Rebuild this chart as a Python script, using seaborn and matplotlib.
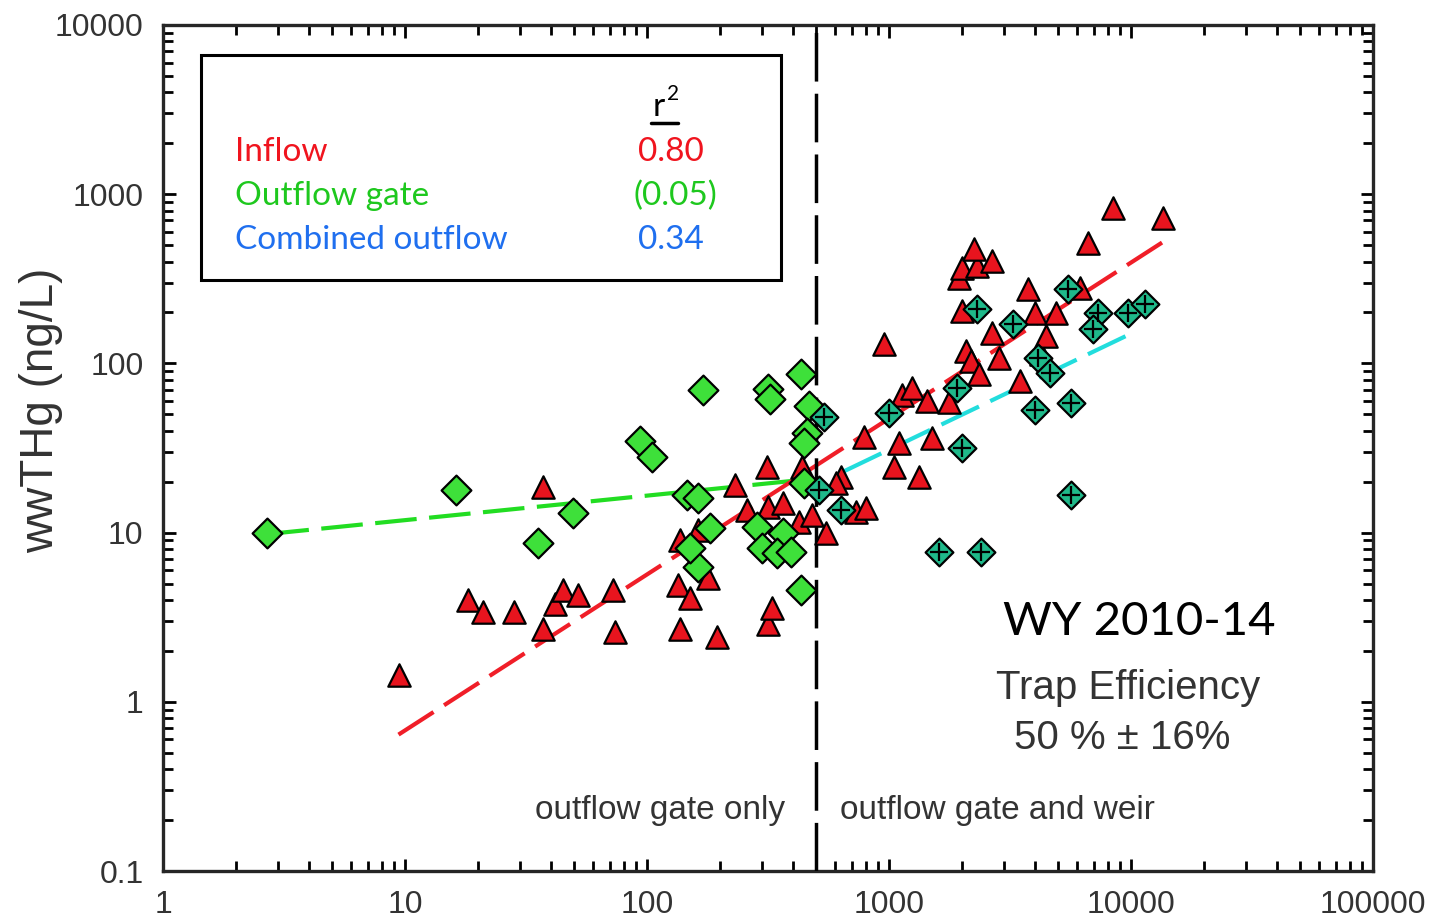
import numpy as np
import pandas as pd
import matplotlib.pyplot as plt
import seaborn as sns
from matplotlib.patches import Rectangle
from matplotlib.ticker import NullFormatter

# Inflow (red triangles): flow vs wwTHg (ng/L)
inflow_flow = [9.4, 18.2, 21.1, 28.1, 37.3, 37.0, 41.8, 45.1, 52.0, 72.4, 73.8,
               134, 137, 137, 150, 162, 178, 194, 230, 258, 312, 315, 363, 315,
               330, 426, 438, 482, 550, 634, 605, 731, 804, 789, 953, 1050, 1328,
               1099, 1503, 1130, 1244, 1432, 1766, 2073, 2174, 2345, 2837, 3493,
               4265, 4468, 2653, 1995, 4027, 4912, 3768, 6166, 6653, 1941, 1995,
               2303, 2653, 2238, 8433, 13550]
inflow_thg = [1.44, 4.0, 3.4, 3.4, 2.7, 18.5, 3.8, 4.6, 4.3, 4.6, 2.6,
              4.9, 9.0, 2.7, 4.1, 10.3, 5.4, 2.4, 19.0, 13.6, 24.3, 14.1, 14.9, 2.9,
              3.6, 11.5, 24.3, 12.7, 9.9, 21.2, 19.6, 13.2, 13.9, 36.5, 131, 24.3, 21.2,
              34, 36, 65, 72, 60, 59, 119, 104, 87, 107, 79,
              114, 146, 152, 205, 199, 199, 276, 280, 515, 321, 367,
              377, 404, 475, 829, 724]

# Outflow gate (green diamonds)
gate_flow = [2.7, 16.2, 35.3, 49.6, 93.6, 105, 170, 146, 162, 182, 162, 150,
             315, 321, 434, 469, 460, 447, 447, 286, 363, 300, 346, 395, 434]
gate_thg = [10.0, 17.8, 8.7, 13.0, 35, 27.8, 70, 16.6, 16.0, 10.6, 6.3, 8.1,
            71, 62, 87, 56, 38.6, 34, 19.6, 10.8, 9.9, 8.1, 7.6, 7.7, 4.6]

# Combined outflow (teal diamonds with cross)
combined_flow = [540, 515, 634, 1000, 1905, 1995, 1607, 2391, 2303, 3267, 4140,
                 4642, 4027, 5662, 5662, 5508, 7311, 6982, 9723, 11420]
combined_thg = [48, 17.8, 13.6, 51, 72, 31.5, 7.7, 7.7, 210, 172, 108,
                88, 53, 58, 16.6, 276, 199, 160, 199, 225]

# Fitted regression lines (end points)
fit_inflow_x = [9.4, 13500]
fit_inflow_y = [0.64, 520]
fit_gate_x = [2.7, 440]
fit_gate_y = [9.8, 20.5]
fit_combined_x = [650, 10000]
fit_combined_y = [23, 150]

regime_split = 500

r2_labels = ['Inflow', 'Outflow gate', 'Combined outflow']
r2_values = ['0.80', '(0.05)', '0.34']
r2_colors = ['#f0141e', '#1ec81e', '#1f6fef']

x_ticks = [1, 10, 100, 1000, 10000, 100000]
x_tick_labels = ['1', '10', '100', '1000', '10000', '100000']
y_ticks = [0.1, 1, 10, 100, 1000, 10000]
y_tick_labels = ['0.1', '1', '10', '100', '1000', '10000']

sns.set_style('ticks')
plt.rcParams['font.family'] = ['Liberation Sans', 'DejaVu Sans']
box_font = ['Lato', 'DejaVu Sans']

fig = plt.figure(figsize=(14.35, 9.22), dpi=100)
ax = fig.add_axes([0.1136, 0.0553, 0.8432, 0.9176])
ax.set_xscale('log')
ax.set_yscale('log')

# fit lines
sns.lineplot(x=fit_gate_x, y=fit_gate_y, ax=ax, color='#22dd22', lw=3,
             zorder=2).lines[-1].set_dashes((10, 3))
sns.lineplot(x=fit_inflow_x, y=fit_inflow_y, ax=ax, color='#f01e28', lw=3,
             zorder=2).lines[-1].set_dashes((10, 3))
sns.lineplot(x=fit_combined_x, y=fit_combined_y, ax=ax, color='#22dddd', lw=3,
             zorder=2).lines[-1].set_dashes((10, 3))

ax.axvline(regime_split, color='black', lw=2.5, dashes=(14, 3.5), zorder=3)

# points
sns.scatterplot(x=inflow_flow, y=inflow_thg, ax=ax, marker='^', s=260,
                color='#e8141e', edgecolor='black', linewidth=1.6, zorder=4)
sns.scatterplot(x=gate_flow, y=gate_thg, ax=ax, marker='D', s=230,
                color='#3ee03a', edgecolor='black', linewidth=1.6, zorder=5)
sns.scatterplot(x=combined_flow, y=combined_thg, ax=ax, marker='D', s=200,
                color='#1fb98a', edgecolor='black', linewidth=1.6, zorder=6)
sns.scatterplot(x=combined_flow, y=combined_thg, ax=ax, marker='+', s=150,
                color='black', linewidth=1.6, zorder=7)

ax.set_xlim(1, 100000)
ax.set_ylim(0.1, 10000)
ax.set_xticks(x_ticks, labels=x_tick_labels)
ax.set_yticks(y_ticks, labels=y_tick_labels)
ax.xaxis.set_minor_formatter(NullFormatter())
ax.yaxis.set_minor_formatter(NullFormatter())
ax.tick_params(which='both', direction='in', top=True, right=True,
               width=2, color='black', labelcolor='#333333', labelsize=23)
ax.tick_params(which='major', length=9)
ax.tick_params(which='minor', length=7)
ax.tick_params(axis='x', pad=14)
ax.tick_params(axis='y', pad=14)
for sp in ax.spines.values():
    sp.set_linewidth(2.4)
    sp.set_visible(True)

ax.set_ylabel('wwTHg (ng/L)', fontsize=33, color='#333333')
ax.yaxis.set_label_coords(-0.083, 0.545)
ax.set_xlabel('')

# r^2 box
ax.add_patch(Rectangle((0.0314, 0.6986), 0.4793, 0.2659, transform=ax.transAxes,
                       fill=True, facecolor='white', edgecolor='black', lw=2.2, zorder=8))
ax.text(0.410, 0.903, 'r', transform=ax.transAxes, ha='center', va='center',
        fontsize=24, family=box_font, color='black', zorder=9)
ax.text(0.4215, 0.918, '2', transform=ax.transAxes, ha='center', va='center',
        fontsize=15, family=box_font, color='black', zorder=9)
ax.plot([0.403, 0.426], [0.884, 0.884], transform=ax.transAxes, color='black',
        lw=2.5, zorder=9)
for i, (lab, val, col) in enumerate(zip(r2_labels, r2_values, r2_colors)):
    yy = 0.850 - i * 0.052
    ax.text(0.0595, yy, lab, transform=ax.transAxes, ha='left', va='center',
            fontsize=24, family=box_font, color=col, zorder=9)
    ax.text(0.389 if val.startswith('(') else 0.3926, yy, val, transform=ax.transAxes,
            ha='left', va='center', fontsize=24, family=box_font,
            color=col, zorder=9)

ax.text(0.807, 0.294, 'WY 2010-14', transform=ax.transAxes, ha='center', va='center',
        fontsize=34, family=box_font, color='black')
ax.text(0.7975, 0.2163, 'Trap Efficiency', transform=ax.transAxes, ha='center',
        va='center', fontsize=29, color='#333333')
ax.text(0.7926, 0.157, '50 % ± 16%', transform=ax.transAxes, ha='center',
        va='center', fontsize=29, color='#333333')
ax.text(0.411, 0.072, 'outflow gate only', transform=ax.transAxes, ha='center',
        va='center', fontsize=24, color='#333333')
ax.text(0.690, 0.072, 'outflow gate and weir', transform=ax.transAxes, ha='center',
        va='center', fontsize=24, color='#333333')

fig.savefig('out.png', dpi=100)
